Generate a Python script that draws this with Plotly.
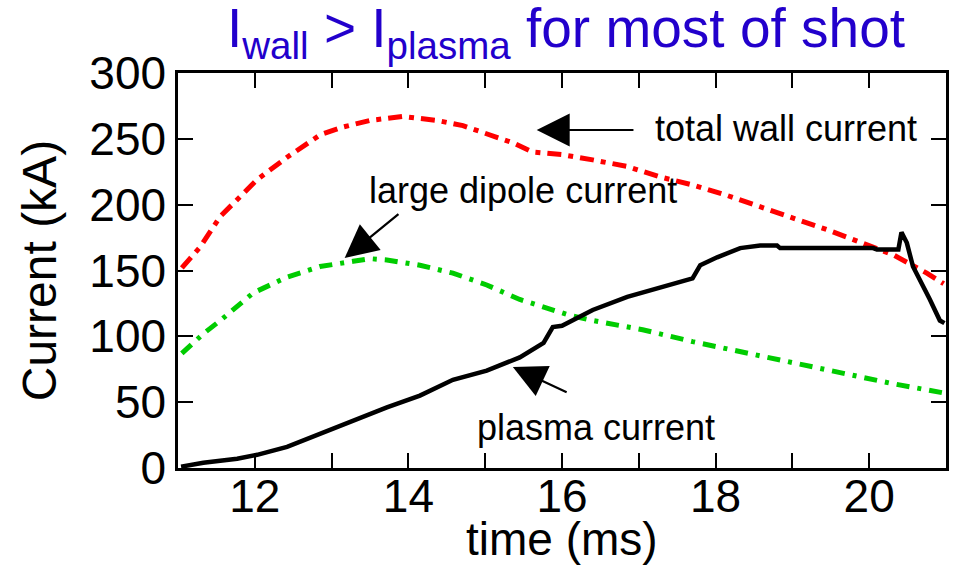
import plotly.graph_objects as go

# ---- data (time in ms, current in kA) ----
wall_t = [11.05, 11.29, 11.55, 11.8, 12.03, 12.42, 12.85, 13.15, 13.5, 13.93, 14.37, 14.71,
          15.02, 15.36, 15.62, 16.0, 16.4, 16.85, 17.28, 17.7, 18.15, 18.58, 19.0, 19.45,
          19.88, 20.31, 20.75, 20.97]
wall_i = [152, 168, 191, 206, 219, 236, 253, 259, 264, 267, 264, 260,
          254, 247, 240, 238, 234, 229, 221, 215, 207, 198, 190, 181,
          172, 162, 148, 140]

dipole_t = [11.05, 11.33, 11.55, 11.98, 12.42, 12.85, 13.28, 13.5, 13.72, 14.15, 14.58, 15.02,
            15.45, 15.88, 16.1, 16.4, 17.05, 17.7, 18.36, 19.0, 19.66, 20.31, 20.97]
dipole_i = [87, 102, 112, 133, 145, 153, 157, 159, 158, 154, 148, 139,
            128, 120, 116, 112, 105, 96, 88, 80, 72, 64, 57]

plasma_t = [11.04, 11.33, 11.77, 12.03, 12.42, 12.85, 13.28, 13.72, 14.15, 14.58, 15.02, 15.45,
            15.76, 15.88, 16.0, 16.4, 16.85, 17.28, 17.7, 17.8, 18.02, 18.32, 18.58, 18.8,
            18.84, 19.3, 20.05, 20.1, 20.38, 20.42, 20.49, 20.57, 20.66, 20.79, 20.92, 20.98]
plasma_i = [1, 4, 7, 10, 16, 26, 36, 46, 55, 67, 74, 84,
            95, 107, 108, 120, 130, 137, 144, 154, 160, 167, 169, 169,
            167, 167, 167, 166, 166, 179, 171, 153, 143, 128, 112, 110]

x_ticks = list(range(11, 22))
x_labels = [str(v) if v % 2 == 0 and 11 < v < 21 else "" for v in x_ticks]
y_ticks = [0, 50, 100, 150, 200, 250, 300]

FONT = "Liberation Sans, Arial, sans-serif"

fig = go.Figure()
fig.add_trace(go.Scatter(x=wall_t, y=wall_i, mode="lines",
                         line=dict(color="#ff0000", width=5, dash="14px,7px,5px,7px"),
                         showlegend=False))
fig.add_trace(go.Scatter(x=dipole_t, y=dipole_i, mode="lines",
                         line=dict(color="#00cc00", width=5, dash="13px,8px,4px,8px"),
                         showlegend=False))
fig.add_trace(go.Scatter(x=plasma_t, y=plasma_i, mode="lines",
                         line=dict(color="#000000", width=4.5),
                         showlegend=False))

axis_common = dict(showgrid=False, zeroline=False, showline=True, linecolor="black",
                   linewidth=2.5, mirror="ticks", ticks="inside", ticklen=15,
                   tickwidth=2, tickcolor="black", automargin=False,
                   tickfont=dict(family=FONT, size=46, color="black"))

fig.update_xaxes(range=[11, 21], tickmode="array", tickvals=x_ticks, ticktext=x_labels,
                 ticklabelstandoff=-14, **axis_common)
fig.update_yaxes(range=[0, 300], tickmode="array", tickvals=y_ticks,
                 ticktext=[str(v) for v in y_ticks],
                 ticklabelstandoff=0, **axis_common)

# axis titles as paper-anchored texts
fig.add_annotation(x=0.5, y=-0.18, xref="paper", yref="paper", text="time (ms)",
                   showarrow=False, xanchor="center", yanchor="middle",
                   font=dict(family=FONT, size=46, color="black"))
fig.add_annotation(x=-0.18, y=0.5, xref="paper", yref="paper", text="Current (kA)",
                   showarrow=False, xanchor="center", yanchor="middle", textangle=-90,
                   font=dict(family=FONT, size=48, color="black"))

# arrows
arrow_style = dict(showarrow=True, arrowhead=2, arrowsize=3, arrowwidth=2.2,
                   arrowcolor="black", text="", axref="x", ayref="y")
fig.add_annotation(x=15.67, y=256.7, ax=16.95, ay=256.7, **arrow_style)
fig.add_annotation(x=13.17, y=159.5, ax=13.89, ay=193.7, **arrow_style)
fig.add_annotation(x=15.36, y=76.7, ax=16.08, ay=57.0, **arrow_style)

label_font = dict(family=FONT, size=36, color="black")
fig.add_annotation(x=17.18, y=258, text="total wall current", showarrow=False,
                   xanchor="left", yanchor="middle", font=label_font)
fig.add_annotation(x=13.46, y=211, text="large dipole current", showarrow=False,
                   xanchor="left", yanchor="middle", font=label_font)
fig.add_annotation(x=14.87, y=31, text="plasma current", showarrow=False,
                   xanchor="left", yanchor="middle", font=label_font)

# title
fig.add_annotation(x=0.505, y=1.105, xref="paper", yref="paper",
                   text="I<sub>wall</sub> > I<sub>plasma</sub> for most of shot",
                   showarrow=False, xanchor="center", yanchor="middle",
                   font=dict(family=FONT, size=55, color="#2200cc"))

fig.update_layout(
    width=953, height=565,
    margin=dict(l=178, r=7, t=73, b=97),
    paper_bgcolor="white", plot_bgcolor="white",
)

fig.write_html("out.html")
